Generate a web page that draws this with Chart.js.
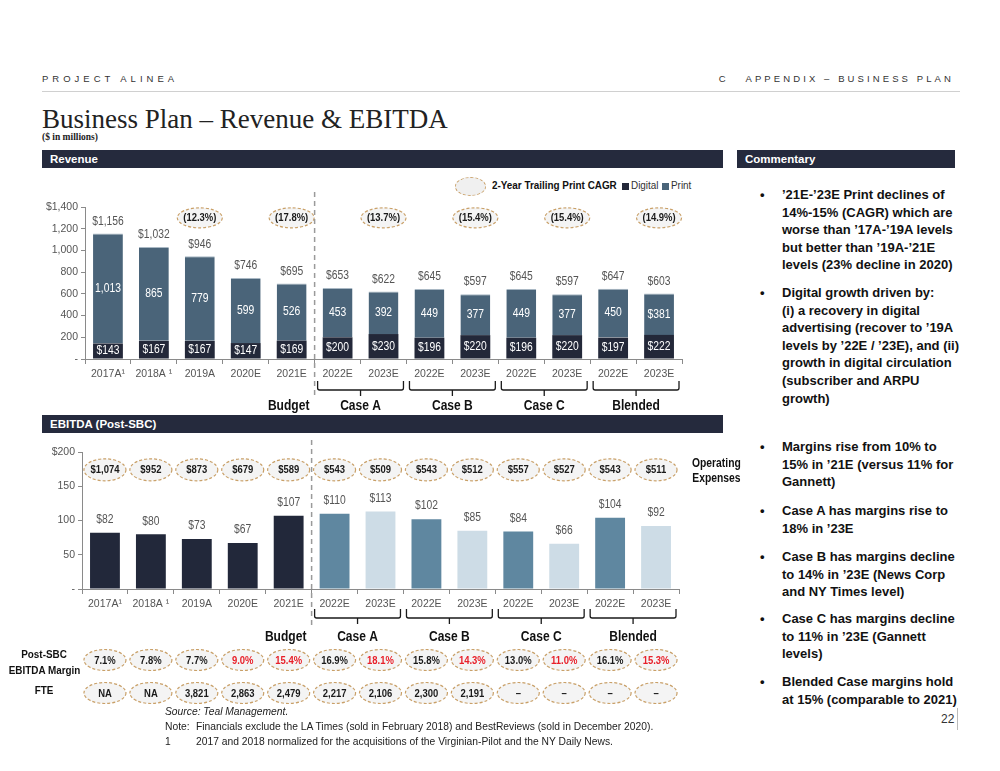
<!DOCTYPE html>
<html>
<head>
<meta charset="utf-8">
<script src="https://cdn.jsdelivr.net/npm/chart.js@4.4.0/dist/chart.umd.min.js"></script>
<style>
  body { margin: 0; background: #fff; font-family: 'Liberation Sans', Arial, sans-serif; color: #111; }
  #page { position: relative; width: 1000px; height: 771px; overflow: hidden; }
  .abs { position: absolute; white-space: nowrap; }
  .hdr { font-size: 9.5px; letter-spacing: 4px; color: #333; top: 73px; }
  .bar { background: #252a3d; color: #fff; font-weight: bold; font-size: 11.5px; height: 18px; line-height: 18px; padding-left: 8px; box-sizing: border-box; }
  .narrow { transform: scaleX(0.86); transform-origin: left center; }
  .com { left: 760px; font-weight: bold; font-size: 13px; line-height: 17.6px; color: #111; }
  .com .b { position: absolute; left: 0; }
  .com .t { position: absolute; left: 22px; }
  .foot { font-size: 10.3px; color: #222; left: 165px; }
  canvas { position: absolute; }
</style>
</head>
<body>
<div id="page">
  <div class="abs hdr" style="left:42px;">PROJECT ALINEA</div>
  <div class="abs hdr" style="right:46px; letter-spacing:3.1px;">C&nbsp;&nbsp; APPENDIX – BUSINESS PLAN</div>
  <div class="abs" style="left:42px; top:91px; width:918px; height:1px; background:#d0d0d0;"></div>
  <div class="abs" style="left:42px; top:104px; font-family:'Liberation Serif', serif; font-size:27px; color:#222;">Business Plan – Revenue &amp; EBITDA</div>
  <div class="abs" style="left:42px; top:132px; font-family:'Liberation Serif', serif; font-size:9.5px; font-weight:bold; color:#222;">($ in millions)</div>

  <div class="abs bar" style="left:42px; top:150px; width:681px;">Revenue</div>
  <div class="abs bar" style="left:737px; top:150px; width:218px;">Commentary</div>
  <div class="abs bar" style="left:42px; top:415px; width:681px;">EBITDA (Post-SBC)</div>

  <!-- legend -->
  <div class="abs" style="left:455px; top:177px; width:29px; height:17px; border:1px dashed #c9a068; border-radius:50%; background:#f0f0f0;"></div>
  <div class="abs narrow" style="left:492px; top:179px; font-size:11.5px; font-weight:bold; color:#111;">2-Year Trailing Print CAGR</div>
  <div class="abs" style="left:622px; top:183px; width:7px; height:7px; background:#232839;"></div>
  <div class="abs narrow" style="left:631px; top:179px; font-size:11.5px; color:#333;">Digital</div>
  <div class="abs" style="left:662px; top:183px; width:7px; height:7px; background:#4a6479;"></div>
  <div class="abs narrow" style="left:671px; top:179px; font-size:11.5px; color:#333;">Print</div>

  <canvas id="rev" width="700" height="242" style="left:40px; top:172px;"></canvas>
  <canvas id="ebitda" width="700" height="270" style="left:40px; top:440px;"></canvas>

  <div class="abs narrow" style="left:692px; top:456px; font-size:12px; font-weight:bold; text-align:center; line-height:15px; color:#111;">Operating<br>Expenses</div>
  <div class="abs" style="left:3px; top:646px; width:82px; font-size:11.5px; font-weight:bold; text-align:center; line-height:16px; color:#111; transform:scaleX(0.86);">Post-SBC<br>EBITDA Margin</div>
  <div class="abs" style="left:3px; top:684px; width:82px; font-size:11.5px; font-weight:bold; text-align:center; color:#111; transform:scaleX(0.86);">FTE</div>

  <!-- commentary -->
  <div class="abs com" style="top:186px;"><span class="b">•</span><span class="t">’21E-’23E Print declines of<br>14%-15% (CAGR) which are<br>worse than ’17A-’19A levels<br>but better than ’19A-’21E<br>levels (23% decline in 2020)</span></div>
  <div class="abs com" style="top:284px;"><span class="b">•</span><span class="t">Digital growth driven by:<br>(i) a recovery in digital<br>advertising (recover to ’19A<br>levels by ’22E / ’23E), and (ii)<br>growth in digital circulation<br>(subscriber and ARPU<br>growth)</span></div>
  <div class="abs com" style="top:438px;"><span class="b">•</span><span class="t">Margins rise from 10% to<br>15% in ’21E (versus 11% for<br>Gannett)</span></div>
  <div class="abs com" style="top:502px;"><span class="b">•</span><span class="t">Case A has margins rise to<br>18% in ’23E</span></div>
  <div class="abs com" style="top:548px;"><span class="b">•</span><span class="t">Case B has margins decline<br>to 14% in ’23E (News Corp<br>and NY Times level)</span></div>
  <div class="abs com" style="top:610px;"><span class="b">•</span><span class="t">Case C has margins decline<br>to 11% in ’23E (Gannett<br>levels)</span></div>
  <div class="abs com" style="top:673px;"><span class="b">•</span><span class="t">Blended Case margins hold<br>at 15% (comparable to 2021)</span></div>

  <!-- footnotes -->
  <div class="abs foot" style="top:706px; font-style:italic;">Source: Teal Management.</div>
  <div class="abs foot" style="top:721px;">Note:</div>
  <div class="abs foot" style="top:721px; left:196px;">Financials exclude the LA Times (sold in February 2018) and BestReviews (sold in December 2020).</div>
  <div class="abs foot" style="top:736px;">1</div>
  <div class="abs foot" style="top:736px; left:196px;">2017 and 2018 normalized for the acquisitions of the Virginian-Pilot and the NY Daily News.</div>

  <div class="abs" style="left:941px; top:712px; font-size:12px; color:#333;">22</div>
  <div class="abs" style="left:957px; top:708px; width:1px; height:22px; background:#bbb;"></div>
</div>

<script>
const FONT = "'Liberation Sans', Arial, sans-serif";
const SQUEEZE = 0.86;

const years = ['2017A¹', '2018A ¹', '2019A', '2020E', '2021E', '2022E', '2023E', '2022E', '2023E', '2022E', '2023E', '2022E', '2023E'];
const digital = [143, 167, 167, 147, 169, 200, 230, 196, 220, 196, 220, 197, 222];
const print = [1013, 865, 779, 599, 526, 453, 392, 449, 377, 449, 377, 450, 381];
const revTotal = [1156, 1032, 946, 746, 695, 653, 622, 645, 597, 645, 597, 647, 603];
const printCagr = [null, null, '(12.3%)', null, '(17.8%)', null, '(13.7%)', null, '(15.4%)', null, '(15.4%)', null, '(14.9%)'];

const ebitda = [82, 80, 73, 67, 107, 110, 113, 102, 85, 84, 66, 104, 92];
const opex = ['$1,074', '$952', '$873', '$679', '$589', '$543', '$509', '$543', '$512', '$557', '$527', '$543', '$511'];
const margin = ['7.1%', '7.8%', '7.7%', '9.0%', '15.4%', '16.9%', '18.1%', '15.8%', '14.3%', '13.0%', '11.0%', '16.1%', '15.3%'];
const marginRed = [false, false, false, true, true, false, true, false, true, false, true, false, true];
const fte = ['NA', 'NA', '3,821', '2,863', '2,479', '2,217', '2,106', '2,300', '2,191', '–', '–', '–', '–'];

const groups = [
    { label: 'Budget', from: 4, to: 4, brace: false },
    { label: 'Case A', from: 5, to: 6, brace: true },
    { label: 'Case B', from: 7, to: 8, brace: true },
    { label: 'Case C', from: 9, to: 10, brace: true },
    { label: 'Blended', from: 11, to: 12, brace: true },
];

const fmt = v => v.toLocaleString('en-US');
const printText = print.map((v, i) => (i === print.length - 1 ? '$' : '') + fmt(v));
const ebitdaColors = ebitda.map((v, i) => i < 5 ? '#22283a' : (i % 2 === 1 ? '#5f87a0' : '#cddce6'));

// squeezed text, to look like the narrow face of the original
function txt(ctx, text, x, y) {
    ctx.save();
    ctx.translate(x, y);
    ctx.scale(SQUEEZE, 1);
    ctx.fillText(text, 0, 0);
    ctx.restore();
}

function oval(ctx, cx, cy, w, h, text, color) {
    ctx.save();
    ctx.beginPath();
    ctx.ellipse(cx, cy, w / 2, h / 2, 0, 0, Math.PI * 2);
    ctx.fillStyle = '#f4f4f4';
    ctx.fill();
    ctx.setLineDash([3, 2]);
    ctx.lineWidth = 1.2;
    ctx.strokeStyle = '#c9a068';
    ctx.stroke();
    ctx.setLineDash([]);
    ctx.fillStyle = color || '#1a1a1a';
    ctx.font = 'bold 11px ' + FONT;
    ctx.textAlign = 'center';
    ctx.textBaseline = 'middle';
    txt(ctx, text, cx, cy + 0.5);
    ctx.restore();
}

function divider(chart, top, bottom) {
    const x = chart.scales.x;
    const px = (x.getPixelForValue(4) + x.getPixelForValue(5)) / 2;
    const ctx = chart.ctx;
    ctx.save();
    ctx.strokeStyle = '#9a9a9a';
    ctx.lineWidth = 1.5;
    ctx.setLineDash([5, 4]);
    ctx.beginPath();
    ctx.moveTo(px, top);
    ctx.lineTo(px, bottom);
    ctx.stroke();
    ctx.restore();
}

function braces(chart, top, labelY) {
    const ctx = chart.ctx;
    const x = chart.scales.x;
    const w = x.getPixelForValue(1) - x.getPixelForValue(0);
    ctx.save();
    ctx.strokeStyle = '#1a1a1a';
    ctx.lineWidth = 1.3;
    groups.forEach(g => {
        const x1 = x.getPixelForValue(g.from) - w / 2 + 3;
        const x2 = x.getPixelForValue(g.to) + w / 2 - 3;
        const mid = (x1 + x2) / 2;
        if (g.brace) {
            const b = top + 9;
            ctx.beginPath();
            ctx.moveTo(x1, top);
            ctx.lineTo(x1, b - 2);
            ctx.quadraticCurveTo(x1, b, x1 + 2, b);
            ctx.lineTo(x2 - 2, b);
            ctx.quadraticCurveTo(x2, b, x2, b - 2);
            ctx.lineTo(x2, top);
            ctx.moveTo(mid, b);
            ctx.lineTo(mid, b + 6);
            ctx.stroke();
        }
        ctx.fillStyle = '#111';
        ctx.font = 'bold 14px ' + FONT;
        ctx.textAlign = 'center';
        ctx.textBaseline = 'middle';
        txt(ctx, g.label, g.brace ? mid : x.getPixelForValue(g.from) - 3, labelY);
    });
    ctx.restore();
}

const revLabels = {
    id: 'revLabels',
    afterDatasetsDraw(chart) {
        const { ctx, chartArea } = chart;
        const y = chart.scales.y, x = chart.scales.x;
        const m0 = chart.getDatasetMeta(0), m1 = chart.getDatasetMeta(1);
        ctx.save();
        ctx.textAlign = 'center';
        ctx.textBaseline = 'middle';
        ctx.font = '12px ' + FONT;
        digital.forEach((v, i) => {
            const b0 = m0.data[i], b1 = m1.data[i];
            ctx.fillStyle = '#fff';
            txt(ctx, '$' + v, b0.x, (b0.y + b0.base) / 2);
            txt(ctx, printText[i], b1.x, (b1.y + b1.base) / 2);
            ctx.fillStyle = '#555';
            txt(ctx, '$' + fmt(revTotal[i]), b1.x, b1.y - 12);
        });
        ctx.restore();
        printCagr.forEach((t, i) => {
            if (t) oval(ctx, x.getPixelForValue(i), y.getPixelForValue(1300), 45, 20, t);
        });
        divider(chart, chartArea.top - 15, chartArea.bottom + 40);
        braces(chart, chartArea.bottom + 22, chartArea.bottom + 47);
    }
};

const ebitdaLabels = {
    id: 'ebitdaLabels',
    afterDatasetsDraw(chart) {
        const { ctx, chartArea } = chart;
        const y = chart.scales.y, x = chart.scales.x;
        const m = chart.getDatasetMeta(0);
        ctx.save();
        ctx.textAlign = 'center';
        ctx.textBaseline = 'middle';
        ctx.font = '12px ' + FONT;
        ctx.fillStyle = '#555';
        ebitda.forEach((v, i) => {
            txt(ctx, '$' + v, m.data[i].x, m.data[i].y - 13);
        });
        ctx.restore();
        divider(chart, 0, chartArea.bottom + 36);
        opex.forEach((t, i) => oval(ctx, x.getPixelForValue(i), y.getPixelForValue(174), 42, 22, t));
        margin.forEach((t, i) => oval(ctx, x.getPixelForValue(i), chartArea.bottom + 71, 42, 21, t, marginRed[i] ? '#e8202a' : '#1a1a1a'));
        fte.forEach((t, i) => oval(ctx, x.getPixelForValue(i), chartArea.bottom + 104, 42, 21, t));
        braces(chart, chartArea.bottom + 20, chartArea.bottom + 48);
    }
};

function xAxis() {
    return {
        stacked: true,
        grid: { display: true, offset: true, drawOnChartArea: false, drawTicks: true, tickLength: 5, color: '#8a8a8a' },
        border: { color: '#8a8a8a' },
        ticks: { color: '#555', font: { family: FONT, size: 10.5 }, padding: 4, maxRotation: 0, autoSkip: false },
        afterFit: s => { s.height = 20; }
    };
}

function yAxis(max, step, width) {
    return {
        stacked: true,
        min: 0,
        max: max,
        ticks: {
            stepSize: step,
            color: '#555',
            font: { family: FONT, size: 10.5 },
            padding: 3,
            callback: v => v === 0 ? '-' : (v === max ? '$' : '') + fmt(v)
        },
        grid: { drawOnChartArea: false, drawTicks: true, tickLength: 4, color: '#8a8a8a' },
        border: { color: '#8a8a8a' },
        afterFit: s => { s.width = width; }
    };
}

new Chart(document.getElementById('rev'), {
    type: 'bar',
    data: {
        labels: years,
        datasets: [
            { label: 'Digital', data: digital, backgroundColor: '#232839', barPercentage: 0.65, categoryPercentage: 1 },
            {
                label: 'Print', data: print, backgroundColor: '#4a6479', barPercentage: 0.65, categoryPercentage: 1,
                borderColor: '#a9b8c4', borderWidth: { top: 1, left: 0, right: 0, bottom: 0 }, borderSkipped: 'bottom'
            }
        ]
    },
    options: {
        responsive: false,
        animation: false,
        layout: { padding: { left: 0, right: 58, top: 35, bottom: 35 } },
        plugins: { legend: { display: false }, tooltip: { enabled: false } },
        scales: { x: xAxis(), y: yAxis(1400, 200, 45) }
    },
    plugins: [revLabels]
});

new Chart(document.getElementById('ebitda'), {
    type: 'bar',
    data: {
        labels: years,
        datasets: [
            { label: 'EBITDA', data: ebitda, backgroundColor: ebitdaColors, barPercentage: 0.65, categoryPercentage: 1 }
        ]
    },
    options: {
        responsive: false,
        animation: false,
        layout: { padding: { left: 0, right: 61, top: 12, bottom: 101 } },
        plugins: { legend: { display: false }, tooltip: { enabled: false } },
        scales: { x: xAxis(), y: yAxis(200, 50, 42) }
    },
    plugins: [ebitdaLabels]
});
</script>
</body>
</html>
